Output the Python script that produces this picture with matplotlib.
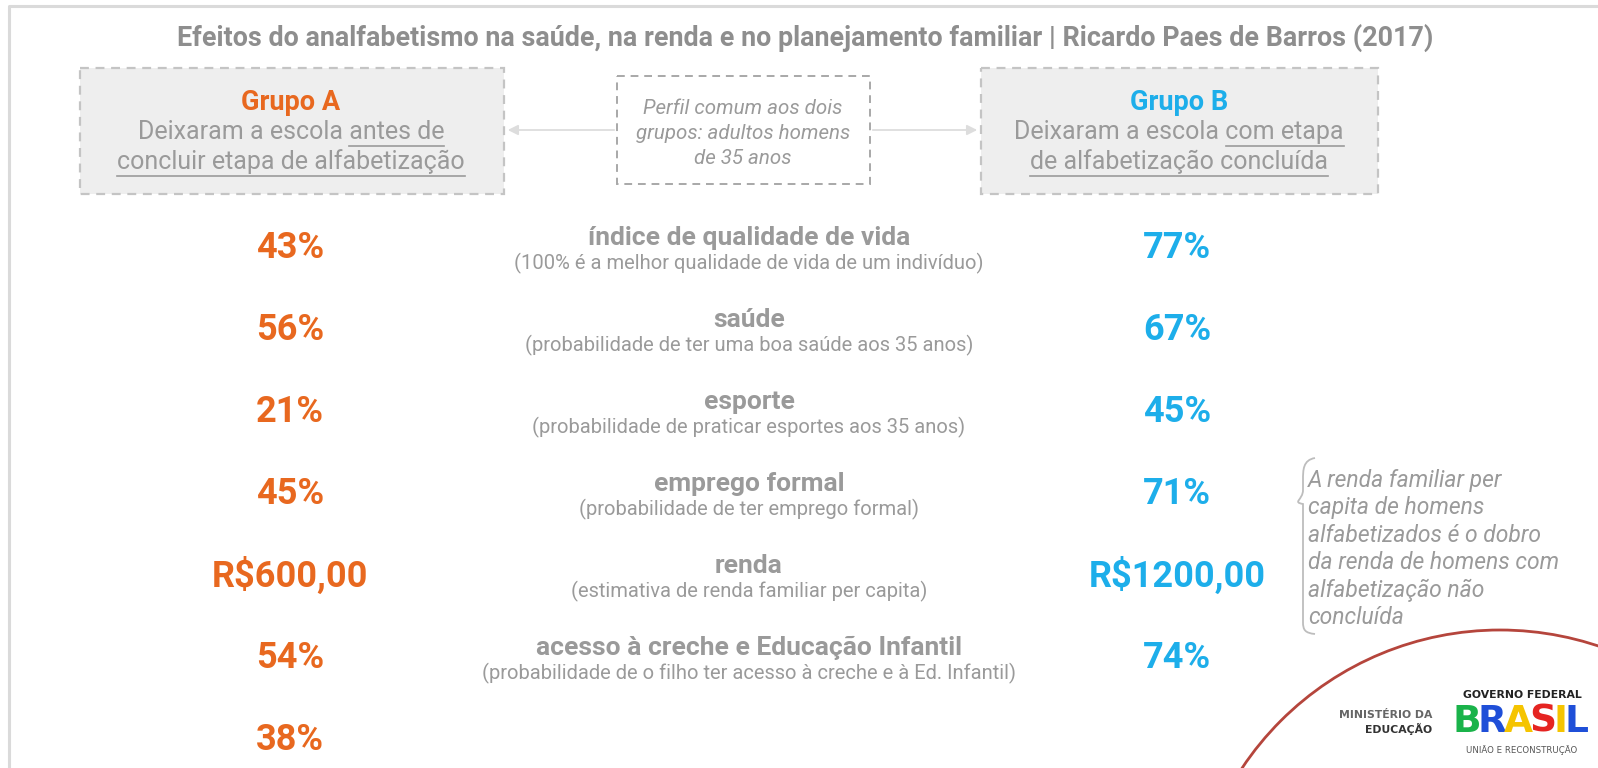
import matplotlib
matplotlib.use("Agg")
import matplotlib.pyplot as plt
from matplotlib.patches import Rectangle, FancyArrowPatch, Arc, PathPatch
from matplotlib.path import Path

# ---------------- data ----------------
title = "Efeitos do analfabetismo na saúde, na renda e no planejamento familiar | Ricardo Paes de Barros (2017)"
group_a_name = "Grupo A"
group_b_name = "Grupo B"
group_a_desc = [("Deixaram a escola ", "antes de"), ("", "concluir etapa de alfabetização")]
group_b_desc = [("Deixaram a escola ", "com etapa"), ("", "de alfabetização concluída")]
common_profile = ["Perfil comum aos dois", "grupos: adultos homens", "de 35 anos"]

indicators = ["índice de qualidade de vida", "saúde", "esporte", "emprego formal",
              "renda", "acesso à creche e Educação Infantil"]
indicator_notes = ["(100% é a melhor qualidade de vida de um indivíduo)",
                   "(probabilidade de ter uma boa saúde aos 35 anos)",
                   "(probabilidade de praticar esportes aos 35 anos)",
                   "(probabilidade de ter emprego formal)",
                   "(estimativa de renda familiar per capita)",
                   "(probabilidade de o filho ter acesso à creche e à Ed. Infantil)"]
group_a_values = ["43%", "56%", "21%", "45%", "R$600,00", "54%", "38%"]
group_b_values = ["77%", "67%", "45%", "71%", "R$1200,00", "74%"]
note_lines = ["A renda familiar per", "capita de homens", "alfabetizados é o dobro",
              "da renda de homens com", "alfabetização não", "concluída"]

# ---------------- style ----------------
ORANGE = "#E8681F"
BLUE = "#1DAEEA"
GRAY = "#9A9A9A"
TITLE_GRAY = "#8E8E8E"
FONT = "Roboto"

W, H = 1598, 768
fig = plt.figure(figsize=(W / 100, H / 100), dpi=100)
ax = fig.add_axes([0, 0, 1, 1])
ax.set_xlim(0, W)
ax.set_ylim(H, 0)
ax.axis("off")

# outer frame (top and left visible)
ax.plot([9, 9, W + 5], [H + 5, 6, 6], color="#DADADA", lw=2.2, solid_capstyle="butt")

# title
ax.text(805, 38, title, ha="center", va="center", fontsize=19.4, fontweight="bold",
        color=TITLE_GRAY, family=FONT)

# group boxes
for (x0, x1) in [(80, 504), (981, 1378)]:
    ax.add_patch(Rectangle((x0, 68), x1 - x0, 126, facecolor="#EEEEEE",
                           edgecolor="#C4C4C4", lw=1.6, ls=(0, (4, 3))))
ax.add_patch(Rectangle((617, 76), 253, 108, facecolor="white",
                       edgecolor="#A8A8A8", lw=1.4, ls=(0, (4, 3))))

# arrows from center box
for xs, xe in [(617, 505), (870, 980)]:
    ax.add_patch(FancyArrowPatch((xs, 130), (xe, 130), arrowstyle="-|>,head_length=4,head_width=2",
                                 color="#DDDDDD", lw=1.3, mutation_scale=1.5))

fig.canvas.draw()
renderer = fig.canvas.get_renderer()


def text_width(s, **kw):
    t = ax.text(0, 0, s, **kw)
    bb = t.get_window_extent(renderer)
    t.remove()
    return bb.width


def underlined_line(cx, cy, plain, under, **kw):
    full = plain + under
    t = ax.text(cx, cy, full, ha="center", va="center", **kw)
    bb = t.get_window_extent(renderer)
    wu = text_width(under, **kw)
    x_right = bb.x1
    x_left = x_right - wu
    ax.plot([x_left, x_right], [cy + 14, cy + 14], color=kw.get("color", GRAY), lw=1.2)


desc_kw = dict(fontsize=18, color=GRAY, family=FONT)
for cx, name, col, desc in [(291, group_a_name, ORANGE, group_a_desc),
                            (1179, group_b_name, BLUE, group_b_desc)]:
    ax.text(cx, 102, name, ha="center", va="center", fontsize=19.5, fontweight="bold",
            color=col, family=FONT)
    for j, (plain, under) in enumerate(desc):
        underlined_line(cx, 132 + j * 30, plain, under, **desc_kw)

for j, line in enumerate(common_profile):
    ax.text(743, 108 + j * 25.5, line, ha="center", va="center", fontsize=14.8,
            style="italic", color=GRAY, family=FONT)

# rows
y0, step = 248, 82
for i, v in enumerate(group_a_values):
    ax.text(290, y0 + i * step, v, ha="center", va="center", fontsize=26, fontweight="bold",
            color=ORANGE, family=FONT, parse_math=False)
for i, v in enumerate(group_b_values):
    ax.text(1177, y0 + i * step, v, ha="center", va="center", fontsize=26, fontweight="bold",
            color=BLUE, family=FONT, parse_math=False)
for i, (lab, note) in enumerate(zip(indicators, indicator_notes)):
    y = y0 + i * step
    ax.text(749, y - 10, lab, ha="center", va="center", fontsize=19, fontweight="bold",
            color=GRAY, family=FONT)
    ax.text(749, y + 15, note, ha="center", va="center", fontsize=14.5,
            color=GRAY, family=FONT)

# brace
verts = [(1315, 458), (1303, 460), (1303, 470), (1303, 480),
         (1303, 490), (1303, 500), (1292, 502),
         (1303, 504), (1303, 514), (1303, 524),
         (1303, 570), (1303, 600), (1303, 622),
         (1303, 630), (1305, 633), (1315, 634)]
codes = [Path.MOVETO] + [Path.CURVE4] * 3 + [Path.LINETO] + [Path.CURVE4] * 2 + \
        [Path.CURVE4] * 3 + [Path.LINETO] * 3 + [Path.CURVE4] * 3
ax.add_patch(PathPatch(Path(verts, codes), facecolor="none", edgecolor="#BDBDBD", lw=1.3))

for j, line in enumerate(note_lines):
    ax.text(1308, 480 + j * 27.6, line, ha="left", va="center", fontsize=16.5,
            style="italic", color=GRAY, family=FONT)

# red arc
ax.add_patch(Arc((1500, 940), 620, 620, theta1=180, theta2=360, color="#B5453C", lw=2))

# logo
ax.text(1432, 715, "MINISTÉRIO DA", ha="right", va="center", fontsize=7.8,
        color="#666666", family="DejaVu Sans", fontweight="bold")
ax.text(1432, 729, "EDUCAÇÃO", ha="right", va="center", fontsize=7.8,
        color="#333333", family="DejaVu Sans", fontweight="bold")
ax.text(1522, 695, "GOVERNO FEDERAL", ha="center", va="center", fontsize=7.8,
        color="#222222", family="DejaVu Sans", fontweight="bold")
ax.text(1522, 750, "UNIÃO E RECONSTRUÇÃO", ha="center", va="center", fontsize=6.2,
        color="#555555", family="DejaVu Sans")
brasil_cols = ["#1AB34A", "#1F4FD8", "#F5C400", "#E52421", "#F5C400", "#1F4FD8"]
xx = 1452
for ch, c in zip("BRASIL", brasil_cols):
    t = ax.text(xx, 722, ch, ha="left", va="center", fontsize=27, fontweight="heavy",
                color=c, family="DejaVu Sans")
    bb = t.get_window_extent(renderer)
    xx += bb.width - 3

fig.savefig("out.png", dpi=100)
